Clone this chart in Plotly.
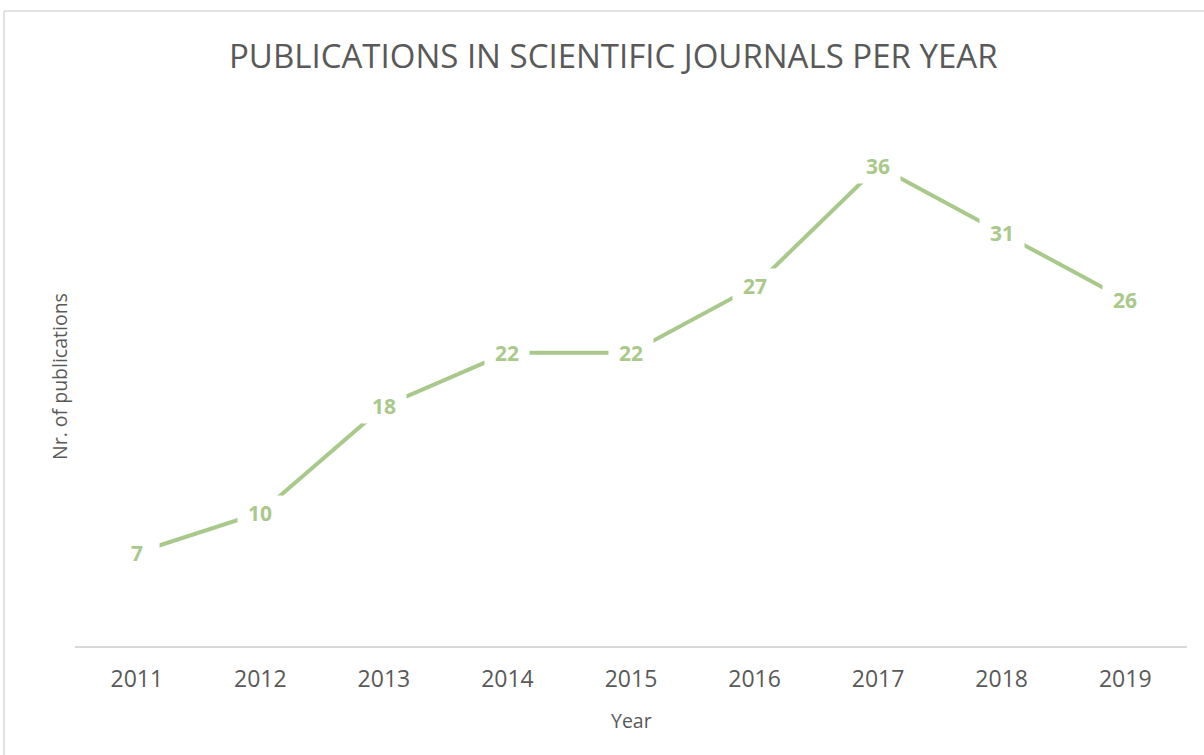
import plotly.graph_objects as go

years = ["2011", "2012", "2013", "2014", "2015", "2016", "2017", "2018", "2019"]
publications = [7, 10, 18, 22, 22, 27, 36, 31, 26]

title_text = "PUBLICATIONS IN SCIENTIFIC JOURNALS PER YEAR"
x_title = "Year"
y_title = "Nr. of publications"

GREEN = "#A9C98B"
GRAY_TEXT = "#595959"
BORDER = "#D9D9D9"

W, H = 1204, 755
ML, MR, MT, MB = 75, 17, 113, 109
PW = W - ML - MR
PH = H - MT - MB


def px_x(px):
    return (px - ML) / PW


def px_y(py):
    return (H - MB - py) / PH


fig = go.Figure()
fig.add_trace(go.Scatter(
    x=years, y=publications, mode="lines",
    line=dict(color=GREEN, width=4),
    hoverinfo="x+y", showlegend=False,
))

annotations = []
for i, v in enumerate(publications):
    annotations.append(dict(
        x=i, y=v, xref="x", yref="y", text=str(v), showarrow=False,
        font=dict(family="Open Sans", size=21, color=GREEN, weight="bold"),
        bgcolor="white", width=44, height=34, borderpad=0,
        xanchor="center", yanchor="middle",
    ))

annotations.append(dict(
    x=px_x(613), y=px_y(55), xref="paper", yref="paper", text=title_text,
    showarrow=False, xanchor="center", yanchor="middle",
    font=dict(family="Open Sans", size=33, color=GRAY_TEXT),
))
annotations.append(dict(
    x=px_x(631), y=px_y(720), xref="paper", yref="paper", text=x_title,
    showarrow=False, xanchor="center", yanchor="middle",
    font=dict(family="Open Sans", size=19.5, color=GRAY_TEXT),
))
annotations.append(dict(
    x=px_x(59), y=px_y(377), xref="paper", yref="paper", text=y_title,
    showarrow=False, xanchor="center", yanchor="middle", textangle=-90,
    font=dict(family="Open Sans", size=19.5, color=GRAY_TEXT),
))

shapes = [
    dict(type="line", xref="paper", yref="paper", x0=px_x(4), x1=px_x(1215),
         y0=px_y(11), y1=px_y(11), line=dict(color=BORDER, width=1.5)),
    dict(type="line", xref="paper", yref="paper", x0=px_x(4), x1=px_x(4),
         y0=px_y(11), y1=px_y(770), line=dict(color=BORDER, width=1.5)),
]

fig.update_layout(
    width=W, height=H,
    margin=dict(l=ML, r=MR, t=MT, b=MB),
    paper_bgcolor="white", plot_bgcolor="white",
    annotations=annotations, shapes=shapes,
    xaxis=dict(type="category", range=[-0.5, len(years) - 0.5],
               showgrid=False, zeroline=False, showline=True,
               linecolor=BORDER, linewidth=1.5, ticks="",
               tickfont=dict(family="Open Sans", size=23, color=GRAY_TEXT),
               ticklabelstandoff=12),
    yaxis=dict(range=[0, 40], visible=False, showgrid=False, zeroline=False),
)

fig.write_html("out.html")
